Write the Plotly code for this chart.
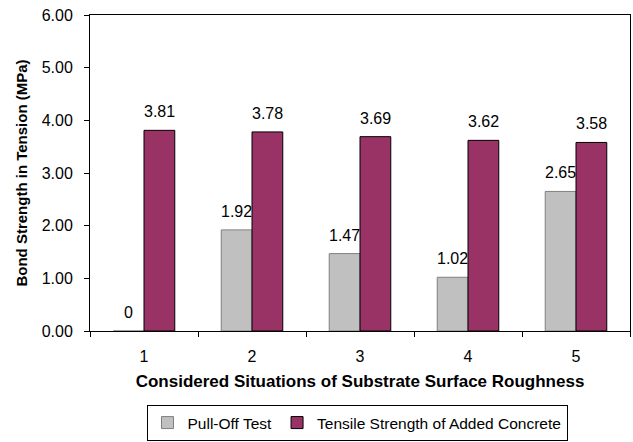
import plotly.graph_objects as go

categories = ["1", "2", "3", "4", "5"]
pull_off = [0, 1.92, 1.47, 1.02, 2.65]
tensile = [3.81, 3.78, 3.69, 3.62, 3.58]
pull_labels = ["0", "1.92", "1.47", "1.02", "2.65"]
tensile_labels = ["3.81", "3.78", "3.69", "3.62", "3.58"]

FONT = "Liberation Sans, Arial, sans-serif"

fig = go.Figure()
fig.add_trace(go.Bar(
    x=categories, y=pull_off, name="Pull-Off Test",
    marker=dict(color="#C0C0C0", line=dict(color="#808080", width=1)),
))
fig.add_trace(go.Bar(
    x=categories, y=tensile, name="Tensile Strength of Added Concrete",
    marker=dict(color="#993366", line=dict(color="#000000", width=1)),
))

annotations = []
for i, (v, t) in enumerate(zip(pull_off, pull_labels)):
    annotations.append(dict(x=i, y=v, text=t, xref="x", yref="y", showarrow=False,
                            xshift=-16, yshift=8, yanchor="bottom",
                            font=dict(family=FONT, size=16, color="#000")))
for i, (v, t) in enumerate(zip(tensile, tensile_labels)):
    annotations.append(dict(x=i, y=v, text=t, xref="x", yref="y", showarrow=False,
                            xshift=15, yshift=8, yanchor="bottom",
                            font=dict(family=FONT, size=16, color="#000")))

fig.update_layout(
    width=633, height=442,
    margin=dict(l=90, r=3, t=15, b=111, autoexpand=False),
    paper_bgcolor="white", plot_bgcolor="white",
    barmode="group", bargap=0.43, bargroupgap=0,
    font=dict(family=FONT, size=16, color="#000"),
    showlegend=True,
    legend=dict(orientation="h", x=0.564, xanchor="center", xref="container",
                y=1 / 442, yanchor="bottom", yref="container",
                bordercolor="#000", borderwidth=1, font=dict(size=15.5),
                itemwidth=30, tracegroupgap=0),
    annotations=annotations,
    xaxis=dict(
        type="category", showline=True, linecolor="#000", linewidth=1, mirror=True,
        ticks="outside", ticklen=5, tickcolor="#000", tickson="boundaries",
        showgrid=False, tickfont=dict(size=16), ticklabelstandoff=11, automargin=False,
        title=dict(text="<b>Considered Situations of Substrate Surface Roughness</b>",
                   font=dict(size=17), standoff=10),
    ),
    yaxis=dict(
        range=[0, 6], dtick=1, tickformat=".2f", showline=True, linecolor="#000",
        linewidth=1, mirror=True, ticks="outside", ticklen=5, tickcolor="#000",
        showgrid=False, zeroline=False, tickfont=dict(size=16), ticklabelstandoff=8,
        automargin=False,
        title=dict(text="<b>Bond Strength in Tension (MPa)</b>", font=dict(size=15),
                   standoff=10),
    ),
)

fig.write_html("out.html")
